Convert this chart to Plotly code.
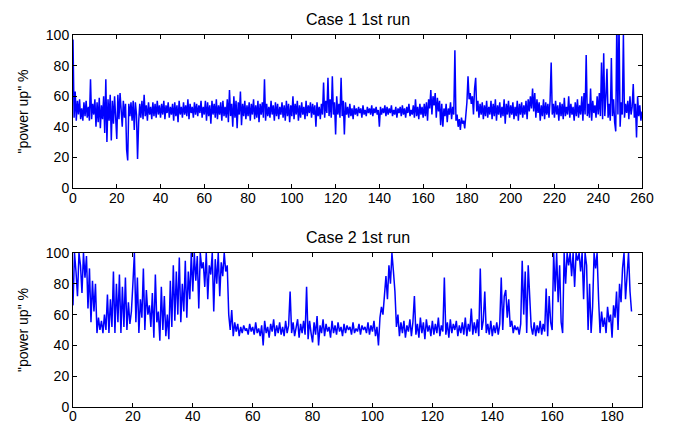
import plotly.graph_objects as go

STEP = 0.5

case1_power_up = [
    97, 46, 63, 44, 57, 48, 58, 45, 52, 44, 56, 47, 57, 46, 53, 44, 71, 45, 55, 48,
    58, 40, 56, 43, 59, 39, 54, 45, 60, 36, 71, 30, 58, 44, 61, 31, 57, 42, 60, 39,
    32, 61, 45, 62, 50, 40, 57, 46, 55, 25, 18, 55, 47, 56, 44, 57, 38, 56, 48, 19,
    43, 55, 46, 57, 45, 61, 47, 54, 44, 56, 48, 53, 45, 56, 47, 55, 46, 57, 48, 54,
    46, 55, 48, 57, 45, 54, 49, 56, 46, 53, 48, 55, 44, 56, 47, 54, 43, 57, 48, 53,
    46, 56, 48, 54, 47, 58, 45, 55, 49, 53, 46, 56, 48, 55, 47, 54, 49, 57, 46, 53,
    48, 57, 44, 56, 47, 54, 42, 57, 48, 55, 46, 58, 45, 54, 48, 56, 44, 57, 47, 53,
    46, 58, 43, 64, 47, 55, 40, 60, 46, 57, 39, 56, 48, 63, 41, 55, 47, 57, 45, 54,
    47, 56, 44, 55, 48, 58, 45, 54, 46, 57, 43, 55, 48, 56, 46, 71, 44, 55, 47, 53,
    46, 57, 48, 54, 44, 56, 47, 55, 45, 53, 48, 56, 46, 54, 44, 57, 47, 55, 43, 54,
    47, 60, 45, 55, 48, 57, 44, 54, 46, 56, 48, 53, 45, 57, 47, 54, 49, 56, 46, 55,
    48, 54, 40, 56, 47, 53, 45, 55, 48, 69, 46, 57, 49, 72, 47, 58, 46, 73, 48, 56,
    35, 60, 48, 55, 46, 72, 47, 57, 35, 56, 48, 53, 46, 55, 47, 52, 45, 54, 48, 52,
    47, 53, 49, 52, 46, 54, 48, 51, 47, 53, 49, 52, 48, 54, 47, 52, 49, 53, 48, 51,
    40, 53, 48, 52, 49, 54, 47, 53, 48, 52, 49, 54, 47, 51, 48, 53, 46, 52, 49, 53,
    47, 54, 48, 52, 46, 53, 49, 55, 47, 51, 48, 54, 46, 58, 47, 53, 45, 55, 48, 53,
    46, 55, 47, 56, 44, 58, 52, 64, 48, 60, 54, 62, 46, 59, 50, 57, 41, 55, 40, 52,
    47, 55, 43, 52, 48, 56, 45, 53, 48, 90, 44, 48, 40, 45, 38, 46, 42, 44, 39, 47,
    56, 73, 58, 62, 55, 60, 48, 65, 72, 50, 57, 46, 55, 48, 56, 45, 54, 47, 57, 46,
    53, 48, 57, 45, 55, 47, 58, 44, 54, 48, 56, 46, 53, 47, 58, 42, 55, 48, 57, 46,
    54, 48, 56, 45, 53, 47, 57, 44, 55, 48, 56, 46, 54, 48, 57, 45, 58, 50, 60, 52,
    65, 50, 62, 46, 58, 49, 56, 44, 54, 47, 58, 45, 56, 48, 55, 46, 57, 82, 48, 55,
    46, 57, 48, 54, 44, 56, 47, 55, 45, 59, 47, 53, 48, 60, 46, 55, 48, 53, 44, 56,
    47, 58, 46, 54, 48, 60, 44, 62, 48, 87, 47, 55, 46, 65, 44, 57, 49, 54, 46, 60,
    48, 62, 47, 82, 45, 88, 47, 60, 78, 46, 55, 44, 85, 47, 58, 43, 37, 110, 48, 108,
    40, 56, 48, 100, 46, 55, 49, 57, 45, 60, 48, 53, 68, 46, 55, 33, 60, 47, 54, 44,
    50,
]

case2_power_up = [
    66, 100, 88, 72, 100, 92, 74, 100, 84, 98, 64, 90, 55, 82, 62, 80, 48, 58, 50, 56,
    48, 60, 50, 73, 48, 70, 52, 88, 48, 80, 55, 86, 48, 78, 52, 84, 50, 68, 54, 62,
    80, 100, 55, 84, 48, 70, 58, 90, 50, 76, 60, 66, 52, 74, 45, 86, 55, 62, 43, 78,
    50, 72, 46, 60, 44, 82, 52, 92, 56, 88, 60, 97, 55, 80, 62, 95, 58, 88, 70, 100,
    75, 100, 82, 98, 64, 100, 90, 94, 78, 100, 70, 92, 86, 100, 62, 96, 80, 100, 72, 94,
    85, 100, 88, 92, 60, 50, 63, 46, 55, 49, 54, 46, 52, 48, 53, 50, 51, 47, 54, 49,
    52, 47, 55, 48, 51, 46, 53, 40, 56, 48, 52, 45, 54, 49, 57, 46, 53, 48, 55, 47,
    52, 46, 56, 48, 53, 75, 48, 55, 46, 52, 57, 45, 54, 48, 56, 47, 78, 44, 56, 48,
    42, 55, 47, 59, 40, 53, 48, 57, 46, 54, 49, 52, 45, 56, 48, 53, 47, 55, 49, 52,
    46, 54, 48, 53, 50, 52, 47, 55, 48, 51, 49, 54, 47, 53, 50, 52, 48, 55, 47, 53,
    49, 56, 46, 52, 40, 58, 65, 60, 75, 85, 70, 92, 80, 100, 88, 75, 52, 60, 46, 55,
    48, 56, 45, 53, 49, 57, 46, 55, 72, 47, 54, 45, 58, 48, 55, 44, 57, 49, 53, 46,
    56, 47, 54, 48, 58, 46, 53, 49, 84, 47, 55, 45, 57, 48, 54, 50, 56, 46, 53, 48,
    55, 47, 58, 46, 54, 49, 64, 47, 55, 48, 57, 46, 90, 50, 56, 75, 48, 54, 47, 56,
    46, 53, 48, 55, 47, 54, 84, 50, 72, 76, 58, 70, 52, 56, 48, 53, 50, 52, 47, 54,
    95, 60, 88, 48, 92, 70, 52, 47, 55, 46, 53, 48, 56, 47, 54, 49, 77, 46, 72, 55,
    50, 100, 75, 100, 68, 92, 55, 48, 100, 80, 100, 92, 100, 85, 100, 78, 100, 95, 100, 88,
    100, 70, 100, 92, 50, 80, 48, 65, 100, 90, 100, 70, 48, 62, 52, 58, 48, 65, 55, 60,
    45, 66, 58, 75, 50, 80, 68, 90, 100, 70, 85, 100, 75, 62,
]

titles = ["Case 1 1st run", "Case 2 1st run"]
y_label = '"power up" %'
x1_ticks = list(range(0, 261, 20))
x2_ticks = list(range(0, 181, 20))
y_ticks = list(range(0, 101, 20))

x1 = [i * STEP for i in range(len(case1_power_up))]
x2 = [i * STEP for i in range(len(case2_power_up))]

FONT = "Liberation Sans, Arial, sans-serif"

fig = go.Figure()
fig.add_trace(go.Scatter(x=x1, y=case1_power_up, mode="lines",
                         line=dict(color="#0000FF", width=1.5), xaxis="x", yaxis="y",
                         showlegend=False, hoverinfo="skip"))
fig.add_trace(go.Scatter(x=x2, y=case2_power_up, mode="lines",
                         line=dict(color="#0000FF", width=1.5), xaxis="x2", yaxis="y2",
                         showlegend=False, hoverinfo="skip"))

axis_common = dict(showgrid=False, zeroline=False, showline=True, linecolor="black",
                   linewidth=1, mirror="ticks", ticks="inside", ticklen=4,
                   tickcolor="black", automargin=False,
                   tickfont=dict(family=FONT, size=14, color="black"))

# axes boxes in page pixels: x 73..642, top plot y 35..188, bottom plot y 253..407
top_bottom_edge = (407 - 188) / 372
bottom_top_edge = (407 - 253) / 372

ytitle = dict(text=y_label, font=dict(family=FONT, size=14, color="black"), standoff=13)

fig.update_layout(
    width=676, height=425,
    margin=dict(l=73, r=34, t=35, b=18),
    paper_bgcolor="white", plot_bgcolor="white",
    xaxis=dict(domain=[0, 1], range=[0, 260], tickvals=x1_ticks, anchor="y",
               ticklabelstandoff=-3, **axis_common),
    yaxis=dict(domain=[top_bottom_edge, 1], range=[0, 100], tickvals=y_ticks, anchor="x",
               title=ytitle, **axis_common),
    xaxis2=dict(domain=[0, 1], range=[0, 190], tickvals=x2_ticks, anchor="y2",
                ticklabelstandoff=-4, **axis_common),
    yaxis2=dict(domain=[0, bottom_top_edge], range=[0, 100], tickvals=y_ticks, anchor="x2",
                title=ytitle, **axis_common),
    annotations=[
        dict(text=titles[0], xref="paper", yref="paper", x=0.5, y=1, yanchor="bottom",
             xanchor="center", yshift=5, showarrow=False,
             font=dict(family=FONT, size=16, color="black")),
        dict(text=titles[1], xref="paper", yref="paper", x=0.5, y=bottom_top_edge,
             yanchor="bottom", xanchor="center", yshift=5, showarrow=False,
             font=dict(family=FONT, size=16, color="black")),
    ],
)

fig.write_html("out.html", config={"displayModeBar": False},
               post_script="document.body.style.margin='0';")
